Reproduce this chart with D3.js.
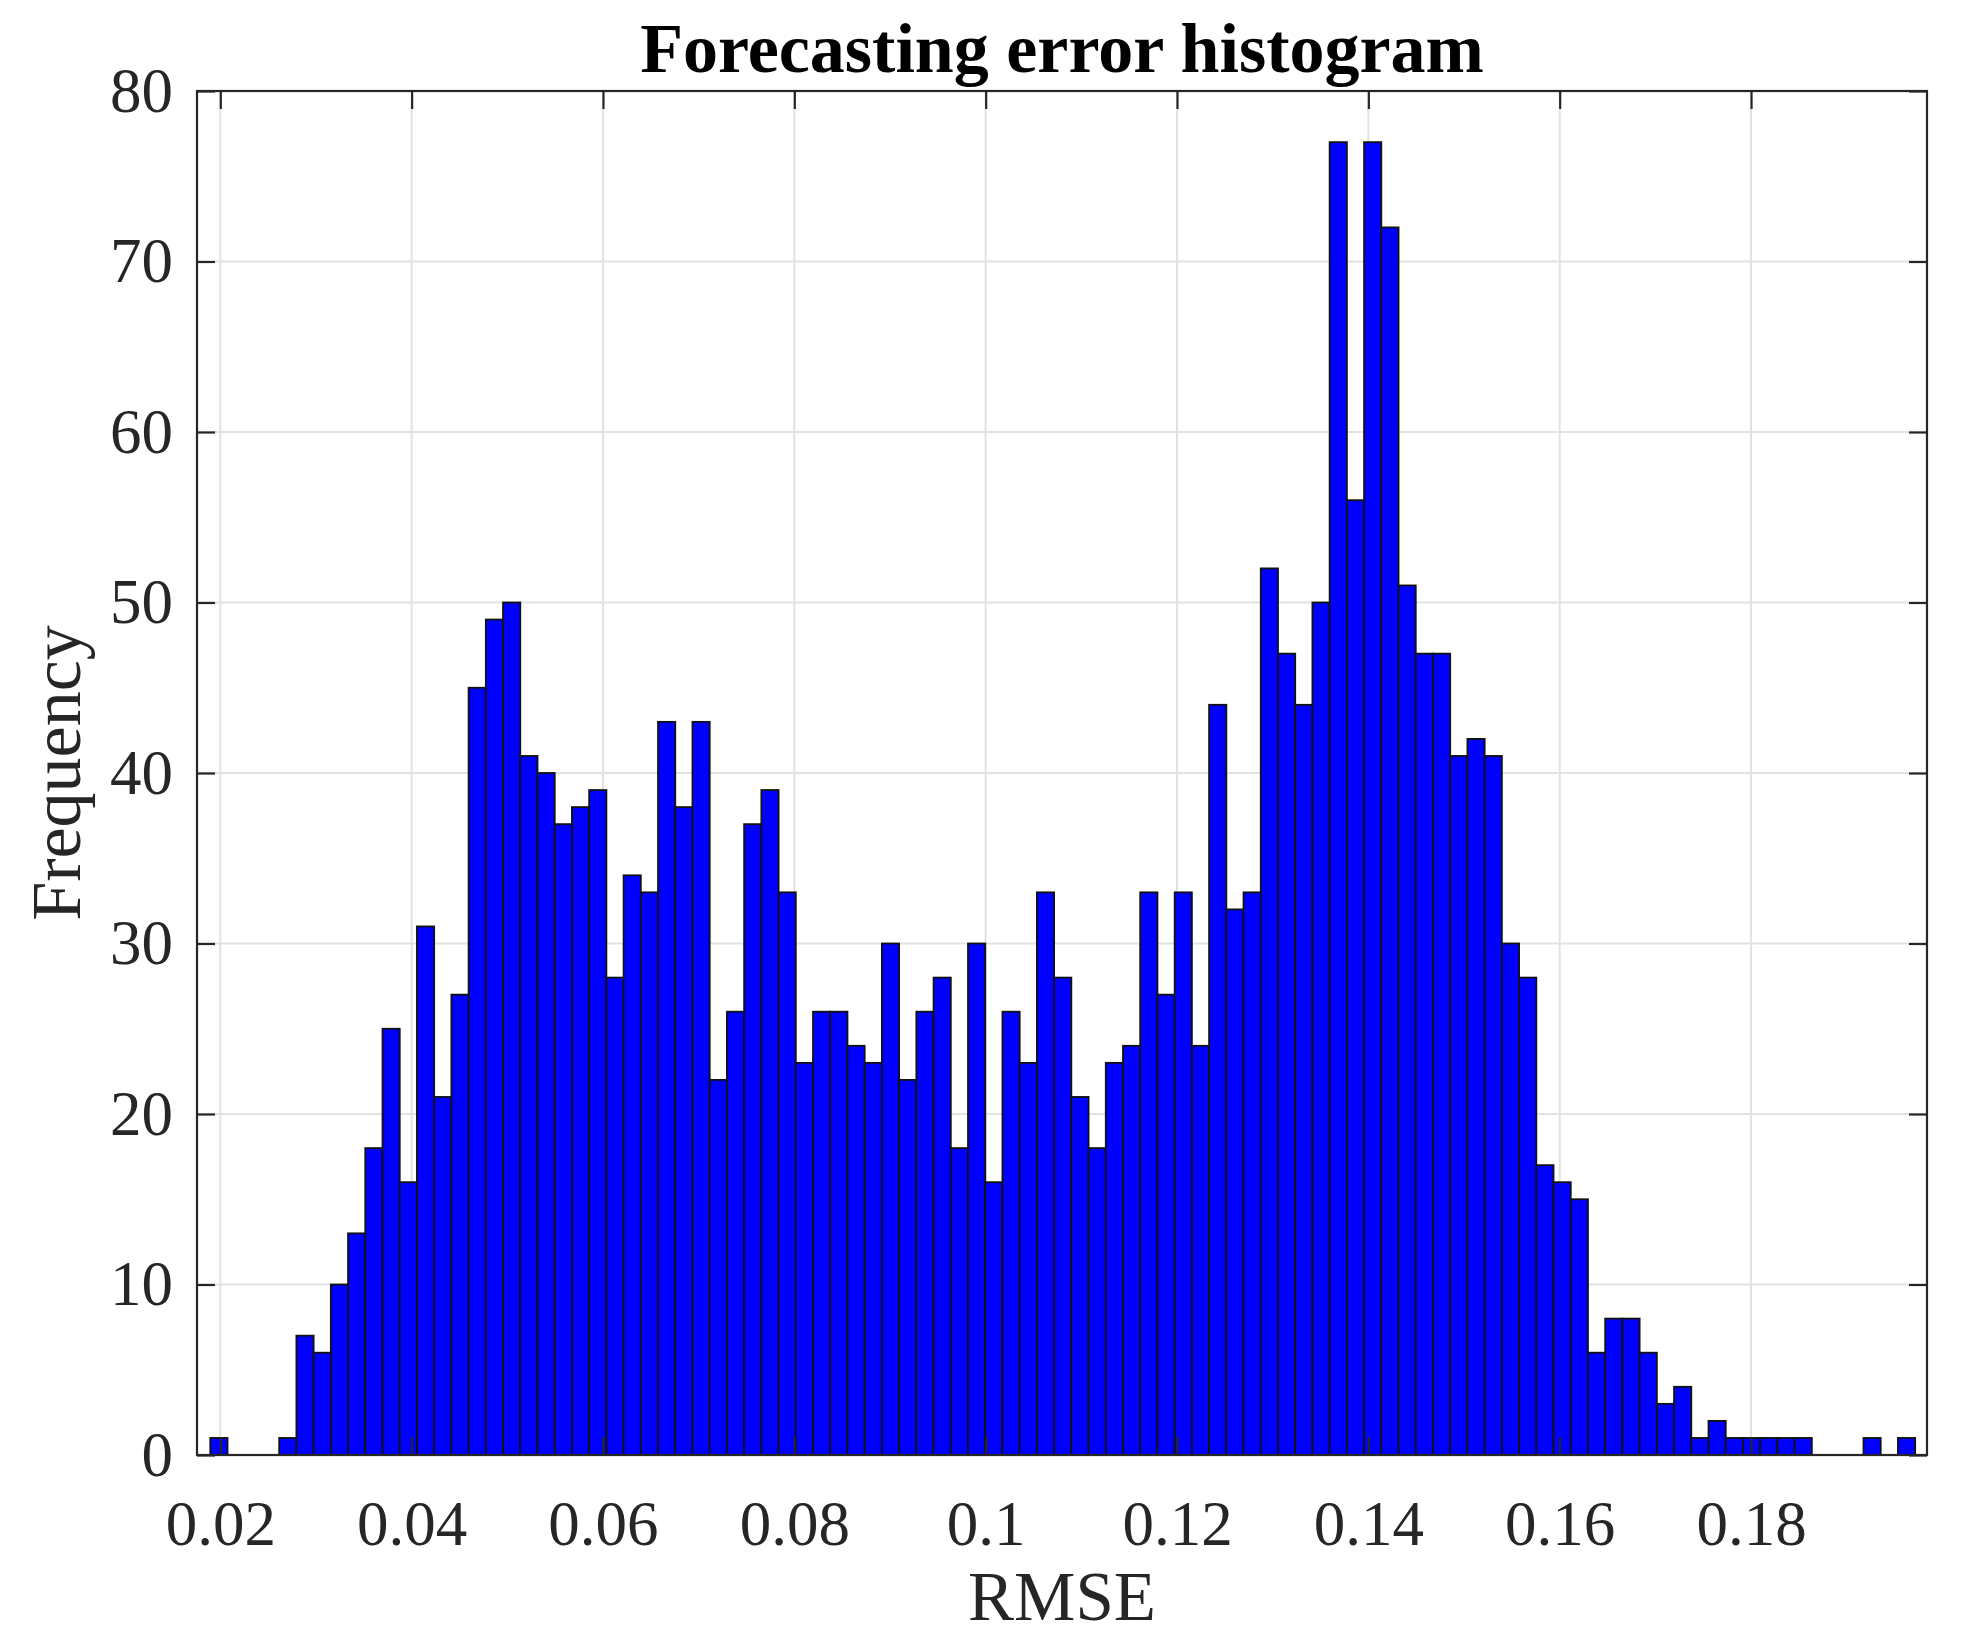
<!DOCTYPE html>
<html>
<head>
<meta charset="utf-8">
<script src="https://cdn.jsdelivr.net/npm/d3@7"></script>
<style>
  html, body { margin: 0; padding: 0; background: #fff; }
  svg { display: block; }
</style>
</head>
<body>
<script>
// ---- data ----
const titleText = "Forecasting error histogram";
const xLabelText = "RMSE";
const yLabelText = "Frequency";

// histogram bin definition (99 equal bins)
const binStart = 0.018955;
const binWidth = 0.0018;

// counts per bin, left to right
const counts = [
  1, 0, 0, 0, 1, 7, 6, 10, 13, 18,
  25, 16, 31, 21, 27, 45, 49, 50, 41, 40,
  37, 38, 39, 28, 34, 33, 43, 38, 43, 22,
  26, 37, 39, 33, 23, 26, 26, 24, 23, 30,
  22, 26, 28, 18, 30, 16, 26, 23, 33, 28,
  21, 18, 23, 24, 33, 27, 33, 24, 44, 32,
  33, 52, 47, 44, 50, 77, 56, 77, 72, 51,
  47, 47, 41, 42, 41, 30, 28, 17, 16, 15,
  6, 8, 8, 6, 3, 4, 1, 2, 1, 1,
  1, 1, 1, 0, 0, 0, 1, 0, 1
];

const xTicks = [0.02, 0.04, 0.06, 0.08, 0.10, 0.12, 0.14, 0.16, 0.18];
const xTickLabels = ["0.02", "0.04", "0.06", "0.08", "0.1", "0.12", "0.14", "0.16", "0.18"];
const yTicks = [0, 10, 20, 30, 40, 50, 60, 70, 80];
const xDomain = [0.017565, 0.198393];
const yDomain = [0, 80];

// ---- layout ----
const W = 1964, H = 1645;
const plot = { left: 197, right: 1927, top: 91, bottom: 1455 };
const axisColor = "#262626";
const gridColor = "#e2e2e2";
const font = "'Liberation Serif', 'Times New Roman', serif";

const svg = d3.select("body").append("svg")
  .attr("width", W).attr("height", H)
  .attr("viewBox", `0 0 ${W} ${H}`);

svg.append("rect").attr("width", W).attr("height", H).attr("fill", "#fff");

const x = d3.scaleLinear().domain(xDomain).range([plot.left, plot.right]);
const y = d3.scaleLinear().domain(yDomain).range([plot.bottom, plot.top]);

// grid
const grid = svg.append("g");
grid.selectAll("line.gx").data(xTicks).join("line")
  .attr("x1", d => x(d)).attr("x2", d => x(d))
  .attr("y1", plot.top).attr("y2", plot.bottom)
  .attr("stroke", gridColor).attr("stroke-width", 2);
grid.selectAll("line.gy").data(yTicks).join("line")
  .attr("x1", plot.left).attr("x2", plot.right)
  .attr("y1", d => y(d)).attr("y2", d => y(d))
  .attr("stroke", gridColor).attr("stroke-width", 2);

// bars
const bins = counts.map((c, i) => ({ x0: binStart + i * binWidth, x1: binStart + (i + 1) * binWidth, c }));
svg.append("g").selectAll("rect").data(bins.filter(b => b.c > 0)).join("rect")
  .attr("x", d => x(d.x0))
  .attr("width", d => x(d.x1) - x(d.x0))
  .attr("y", d => y(d.c))
  .attr("height", d => y(0) - y(d.c))
  .attr("fill", "#0000ff")
  .attr("stroke", "#111")
  .attr("stroke-width", 1.8);

// axes (inward ticks, box with mirrored ticks)
const tickLen = 18;
const fmtX = (d, i) => xTickLabels[i];

const gBottom = svg.append("g").attr("transform", `translate(0,${plot.bottom})`)
  .call(d3.axisBottom(x).tickValues(xTicks).tickFormat(fmtX).tickSizeInner(-tickLen).tickSizeOuter(0).tickPadding(45));
const gTop = svg.append("g").attr("transform", `translate(0,${plot.top})`)
  .call(d3.axisTop(x).tickValues(xTicks).tickFormat("").tickSizeInner(-tickLen).tickSizeOuter(0));
const gLeft = svg.append("g").attr("transform", `translate(${plot.left},0)`)
  .call(d3.axisLeft(y).tickValues(yTicks).tickSizeInner(-tickLen).tickSizeOuter(0).tickPadding(24));
const gRight = svg.append("g").attr("transform", `translate(${plot.right},0)`)
  .call(d3.axisRight(y).tickValues(yTicks).tickFormat("").tickSizeInner(-tickLen).tickSizeOuter(0));

[gBottom, gTop, gLeft, gRight].forEach(g => {
  g.select(".domain").remove();
  g.selectAll(".tick line").attr("stroke", axisColor).attr("stroke-width", 2.2);
  g.selectAll("text").attr("fill", axisColor).attr("font-family", font).attr("font-size", 63);
});
gBottom.selectAll("text").attr("dy", "0.71em").attr("y", 45);

// box
svg.append("rect")
  .attr("x", plot.left).attr("y", plot.top)
  .attr("width", plot.right - plot.left).attr("height", plot.bottom - plot.top)
  .attr("fill", "none").attr("stroke", axisColor).attr("stroke-width", 2.2);

// title
svg.append("text")
  .attr("x", (plot.left + plot.right) / 2).attr("y", 72)
  .attr("text-anchor", "middle")
  .attr("font-family", font).attr("font-weight", "bold").attr("font-size", 70)
  .attr("fill", "#000")
  .text(titleText);

// x label
svg.append("text")
  .attr("x", (plot.left + plot.right) / 2).attr("y", 1620)
  .attr("text-anchor", "middle")
  .attr("font-family", font).attr("font-size", 69)
  .attr("fill", axisColor)
  .text(xLabelText);

// y label
svg.append("text")
  .attr("transform", `translate(80,${(plot.top + plot.bottom) / 2}) rotate(-90)`)
  .attr("text-anchor", "middle")
  .attr("font-family", font).attr("font-size", 70)
  .attr("fill", axisColor)
  .text(yLabelText);
</script>
</body>
</html>
